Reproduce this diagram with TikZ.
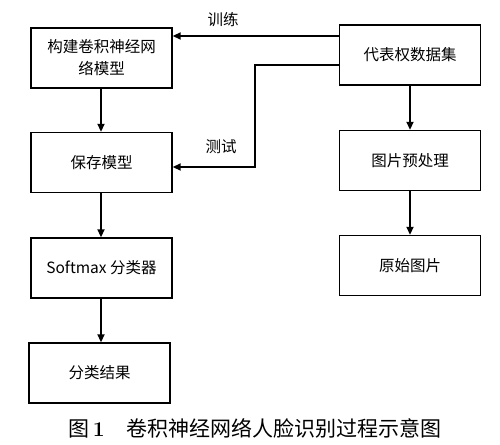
\documentclass[tikz,border=0pt]{standalone}
\usepackage{fontspec}
\setmainfont{Noto Sans CJK SC}
\usetikzlibrary{arrows.meta}
\begin{document}
\begin{tikzpicture}[x=1pt,y=-1pt,
  box/.style={draw,line width=1.4pt,minimum width=141pt,minimum height=60pt,inner sep=0pt,align=center,font=\fontsize{15.5}{22}\selectfont},
  lbl/.style={font=\fontsize{15.5}{18}\selectfont,inner sep=0pt},
  arr/.style={line width=1.8pt,-{Triangle[length=8pt,width=7pt]}}]
\useasboundingbox (0,0) rectangle (500,444);
\node[box] (b1) at (101.5,58) {构建卷积神经网\\络模型};
\node[box] (b2) at (101.5,162.5) {保存模型};
\node[box] (b3) at (101.5,268) {Softmax 分类器};
\node[box] (b4) at (99.5,373) {分类结果};
\node[box] (r1) at (410,55) {代表权数据集};
\node[box] (r2) at (410,160.5) {图片预处理};
\node[box] (r3) at (410,265.5) {原始图片};
\draw[arr] (r1.west |- 0,36) -- (b1.east |- 0,36);
\node[lbl] (t1) at (223,20) {训练};
\draw[arr] (r1.west |- 0,65) -- (255,65) -- (255,167) -- (b2.east |- 0,167);
\node[lbl] (t2) at (221,147) {测试};
\draw[arr] (b1.south -| 101,0) -- (b2.north -| 101,0);
\draw[arr] (b2.south -| 101,0) -- (b3.north -| 101,0);
\draw[arr] (b3.south -| 101,0) -- (b4.north -| 101,0);
\draw[arr] (r1) -- (r2);
\draw[arr] (r2) -- (r3);
\node (cap) at (255,428) {\fontsize{21}{24}\selectfont 图\,{\fontspec{Latin Modern Roman}\bfseries 1}\hspace{22pt}卷积神经网络人脸识别过程示意图};
\end{tikzpicture}
\end{document}
